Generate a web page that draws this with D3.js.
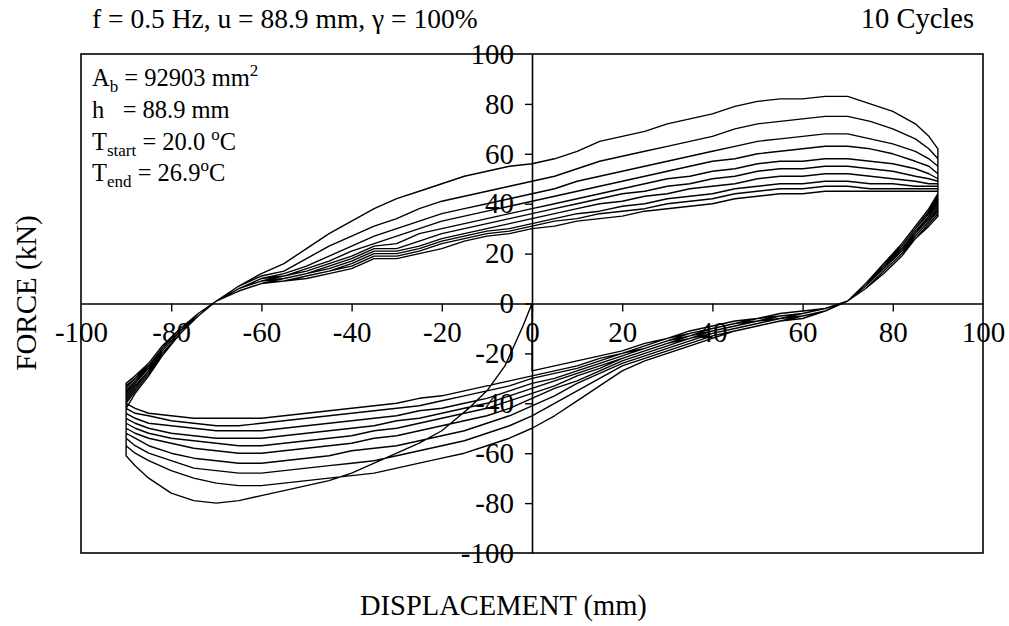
<!DOCTYPE html>
<html><head><meta charset="utf-8">
<script src="https://cdn.jsdelivr.net/npm/d3@7"></script>
<style>
body{margin:0;background:#fff}
text{font-family:"Liberation Serif","Times New Roman",serif;fill:#000}
</style></head>
<body><svg id="chart" width="1009" height="626"></svg>
<script>
// ---- data ----
const xTicks = [-100,-80,-60,-40,-20,0,20,40,60,80,100];
const yTicks = [-100,-80,-60,-40,-20,0,20,40,60,80,100];

// virgin loading from rest, displacement (mm) and force (kN)
const initialDisp  = [0,-2,-4,-6,-10,-14,-20,-25,-30,-35,-40,-45,-50,-55,-60,-65,-70,-75,-80,-85,-88,-90];
const initialForce = [0,-9,-17,-25,-35,-42,-51,-56,-60,-64,-68,-71,-73,-75,-77,-79,-80,-79,-76,-70,-65,-61];

// displacement grid of the loading (upper) and unloading (lower) branches
const dispUp   = [-90,-88,-85,-82,-78,-74,-70,-65,-60,-55,-50,-45,-40,-35,-30,-25,-20,-15,-10,-5,0,5,10,15,20,25,30,35,40,45,50,55,60,65,70,75,80,85,88,90];
const dispDown = [90,88,85,82,78,74,70,65,60,55,50,45,40,35,30,25,20,15,10,5,0,-5,-10,-15,-20,-25,-30,-35,-40,-45,-50,-55,-60,-65,-70,-75,-80,-85,-88,-90];

const upper1  = [-42,-36,-29,-21,-12,-5,1,7,12,16,22,28,33,38,42,45,48,51,53,55,56,58,61,65,67,69,72,74,76,79,81,82,82,83,83,80,77,72,67,62];
const upper2  = [-40,-35,-28,-20,-12,-5,1,7,11,13,18,23,27,31,34,38,41,43,45,47,49,51,54,57,59,61,63,65,67,70,72,73,74,75,75,73,70,66,62,58];
const upper3  = [-39,-34,-27,-20,-12,-5,1,6,10,12,15,19,23,27,30,33,36,38,40,42,44,46,49,51,53,55,57,59,61,63,65,66,67,68,68,66,64,61,58,55];
const upper4  = [-38,-33,-27,-19,-11,-5,1,6,10,11,14,17,21,24,27,30,33,35,37,39,41,43,45,47,49,51,53,55,57,58,60,61,62,63,63,62,60,57,55,52];
const upper5  = [-37,-32,-26,-19,-11,-4,1,6,9,11,13,16,19,23,24,28,30,32,34,36,38,40,42,44,46,48,50,51,53,54,56,57,57,58,58,57,56,54,52,50];
const upper6  = [-36,-31,-26,-18,-10,-4,1,6,9,10,12,15,18,22,22,25,28,30,32,34,36,38,40,42,44,45,47,48,50,51,53,54,54,55,55,54,53,51,50,49];
const upper7  = [-35,-31,-25,-18,-10,-4,1,5,8,10,12,14,17,21,21,23,26,28,30,32,34,36,38,40,41,43,44,46,47,48,50,51,51,52,52,51,50,49,48,48];
const upper8  = [-34,-30,-25,-18,-10,-4,1,5,8,9,11,13,16,20,20,22,25,27,29,30,32,34,36,37,39,40,42,43,44,46,47,48,48,49,49,48,48,47,47,47];
const upper9  = [-33,-30,-24,-17,-10,-4,1,5,8,9,11,13,15,19,19,21,24,26,28,29,31,33,34,36,37,38,40,41,42,44,45,46,46,47,47,46,46,46,46,46];
const upper10 = [-32,-29,-24,-17,-10,-4,1,5,8,9,10,12,14,18,18,20,22,25,27,28,30,31,33,34,35,37,38,39,40,42,43,44,44,45,45,45,45,45,45,45];

const lower1  = [44,38,31,24,16,8,1,-3,-6,-7,-9,-11,-14,-17,-20,-23,-27,-33,-39,-45,-50,-54,-57,-60,-62,-64,-66,-68,-69,-70,-71,-72,-73,-73,-72,-70,-67,-63,-60,-57];
const lower2  = [43,37,30,23,16,8,1,-3,-5,-7,-9,-11,-13,-16,-19,-22,-25,-30,-35,-40,-45,-49,-52,-55,-57,-59,-61,-63,-64,-65,-66,-67,-68,-68,-67,-66,-63,-60,-57,-54];
const lower3  = [42,36,30,23,15,8,1,-3,-5,-6,-8,-10,-12,-15,-18,-21,-24,-28,-32,-37,-41,-45,-48,-51,-53,-55,-57,-58,-59,-61,-62,-63,-64,-64,-63,-62,-60,-57,-54,-52];
const lower4  = [41,35,29,22,15,7,1,-3,-5,-6,-8,-10,-12,-14,-17,-20,-23,-27,-31,-34,-38,-42,-45,-47,-49,-51,-53,-54,-56,-57,-58,-59,-60,-60,-59,-58,-56,-54,-52,-50];
const lower5  = [40,35,28,22,14,7,1,-2,-4,-6,-7,-9,-11,-14,-16,-19,-22,-26,-29,-33,-36,-39,-42,-44,-46,-48,-50,-51,-53,-54,-55,-56,-57,-57,-56,-55,-54,-52,-50,-48];
const lower6  = [39,34,28,21,14,7,1,-2,-4,-5,-7,-9,-11,-13,-16,-19,-22,-25,-28,-31,-34,-37,-40,-42,-44,-46,-47,-49,-50,-51,-52,-53,-54,-54,-54,-53,-52,-50,-48,-46];
const lower7  = [38,33,27,21,14,7,1,-2,-4,-5,-7,-8,-10,-13,-15,-18,-21,-24,-27,-30,-32,-35,-38,-40,-42,-43,-45,-46,-47,-48,-49,-50,-51,-51,-51,-50,-49,-48,-46,-44];
const lower8  = [37,33,27,20,13,6,1,-2,-4,-5,-6,-8,-10,-12,-15,-18,-20,-23,-26,-28,-30,-33,-35,-37,-39,-41,-42,-43,-44,-45,-46,-47,-48,-49,-49,-48,-47,-45,-44,-42];
const lower9  = [36,32,26,20,13,6,1,-2,-4,-5,-6,-8,-10,-12,-14,-17,-20,-22,-25,-27,-29,-31,-33,-35,-37,-38,-40,-41,-42,-43,-44,-45,-46,-46,-46,-46,-45,-44,-42,-40];
const lower10 = [35,31,26,19,12,6,1,-2,-3,-4,-6,-7,-9,-11,-14,-16,-19,-21,-23,-25,-27];

// final unloading at the end of the test
const finalDisp  = [0];
const finalForce = [0];

const upperBranches = [upper1,upper2,upper3,upper4,upper5,upper6,upper7,upper8,upper9,upper10];
const lowerBranches = [lower1,lower2,lower3,lower4,lower5,lower6,lower7,lower8,lower9,lower10];

// ---- drawing ----
const svg = d3.select("#chart");
const L = 81, R = 983, T = 54, B = 553;
const x = d3.scaleLinear().domain([-100,100]).range([L,R]);
const y = d3.scaleLinear().domain([-100,100]).range([B,T]);

// build one continuous record
const pts = [];
initialDisp.forEach((d,i)=>pts.push([d,initialForce[i]]));
for (let k=0;k<10;k++){
  upperBranches[k].forEach((f,i)=>pts.push([dispUp[i],f]));
  lowerBranches[k].forEach((f,i)=>pts.push([dispDown[i],f]));
}
finalDisp.forEach((d,i)=>pts.push([d,finalForce[i]]));

// frame
svg.append("rect").attr("x",L).attr("y",T).attr("width",R-L).attr("height",B-T)
  .attr("fill","none").attr("stroke","#000").attr("stroke-width",1.6);

// axes through origin
const xAxis = d3.axisBottom(x).tickValues(xTicks).tickSize(8).tickSizeOuter(0).tickPadding(10);
const gx = svg.append("g").attr("transform",`translate(0,${y(0)})`).call(xAxis);
gx.select(".domain").attr("stroke-width",1.6);
gx.selectAll(".tick line").attr("stroke-width",1.4).filter(d=>Math.abs(d)===100).remove();
gx.selectAll("text").attr("font-size",29).attr("font-family","Liberation Serif").text(d=>d<0?"-"+(-d):d);

const yAxis = d3.axisLeft(y).tickValues(yTicks).tickSize(7).tickSizeOuter(0).tickPadding(11);
const gy = svg.append("g").attr("transform",`translate(${x(0)},0)`).call(yAxis);
gy.select(".domain").attr("stroke-width",1.6);
gy.selectAll(".tick line").attr("stroke-width",1.4).filter(d=>Math.abs(d)===100).remove();
gy.selectAll("text").attr("font-size",29).attr("font-family","Liberation Serif").text(d=>d<0?"-"+(-d):d);

// data
const line = d3.line().x(d=>x(d[0])).y(d=>y(d[1]));
svg.append("path").datum(pts).attr("d",line).attr("fill","none")
  .attr("stroke","#000").attr("stroke-width",1.4).attr("stroke-linejoin","round");

// titles
svg.append("text").attr("x",92).attr("y",28).attr("font-size",27.5)
  .text("f = 0.5 Hz, u = 88.9 mm, \u03B3 = 100%");
svg.append("text").attr("x",974).attr("y",28).attr("font-size",28.5).attr("text-anchor","end")
  .text("10 Cycles");
svg.append("text").attr("x",360).attr("y",615).attr("font-size",28.5)
  .text("DISPLACEMENT (mm)");
svg.append("text").attr("transform","translate(36,293) rotate(-90)").attr("font-size",29)
  .attr("text-anchor","middle").text("FORCE (kN)");

// annotation block
const fs = 24.5, sub = 17;
const a1 = svg.append("text").attr("x",92).attr("y",86).attr("font-size",fs);
a1.append("tspan").text("A");
a1.append("tspan").attr("font-size",sub).attr("dy",6).text("b");
a1.append("tspan").attr("dy",-6).text(" = 92903 mm");
a1.append("tspan").attr("font-size",sub).attr("dy",-10).text("2");

svg.append("text").attr("x",92).attr("y",118).attr("font-size",fs).attr("xml:space","preserve")
  .text("h   = 88.9 mm");

const a3 = svg.append("text").attr("x",92).attr("y",150).attr("font-size",fs);
a3.append("tspan").text("T");
a3.append("tspan").attr("font-size",sub).attr("dy",6).text("start");
a3.append("tspan").attr("dy",-6).text(" = 20.0 ");
a3.append("tspan").attr("font-size",sub).attr("dy",-10).text("o");
a3.append("tspan").attr("dy",10).text("C");

const a4 = svg.append("text").attr("x",92).attr("y",181).attr("font-size",fs);
a4.append("tspan").text("T");
a4.append("tspan").attr("font-size",sub).attr("dy",6).text("end");
a4.append("tspan").attr("dy",-6).text(" = 26.9");
a4.append("tspan").attr("font-size",sub).attr("dy",-10).text("o");
a4.append("tspan").attr("dy",10).text("C");
</script>
</body></html>
